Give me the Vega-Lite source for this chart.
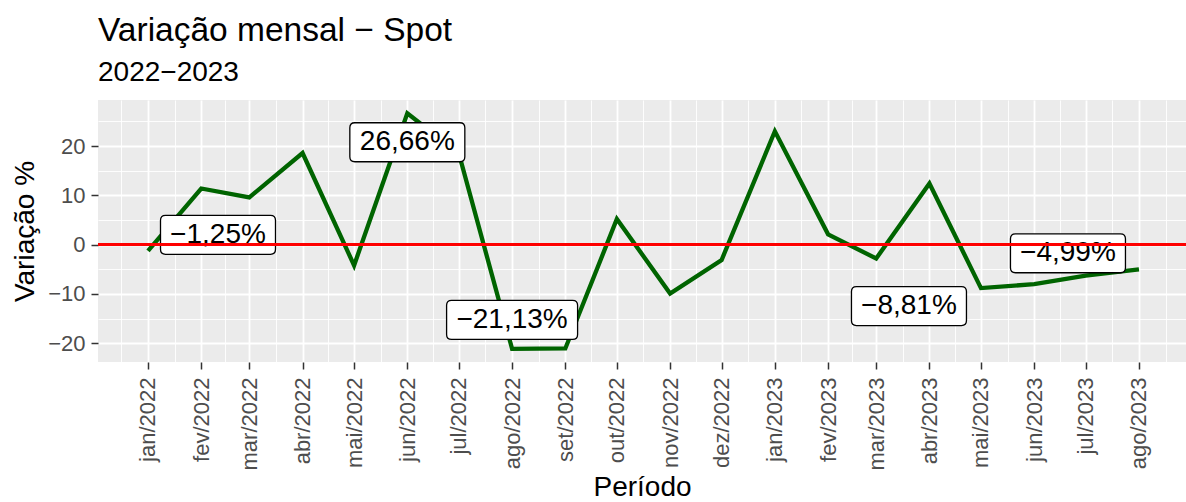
{
  "$schema": "https://vega.github.io/schema/vega-lite/v6.json",
  "autosize": "none",
  "width": 1088,
  "height": 262,
  "padding": {"left": 98, "top": 100, "right": 0, "bottom": 140},
  "config": {
    "font": "Liberation Sans",
    "view": {"fill": "#EBEBEB", "stroke": null}
  },
  "title": {
    "text": "Variação mensal − Spot",
    "subtitle": "2022−2023",
    "anchor": "start",
    "frame": "group",
    "fontSize": 33.5,
    "fontWeight": "normal",
    "color": "black",
    "subtitleFontSize": 28,
    "subtitleColor": "black",
    "offset": 12,
    "subtitlePadding": 11
  },
  "data": {
    "values": [
      {"periodo": "2022-01-01", "variacao": -1.25, "rotulo": "−1,25%"},
      {"periodo": "2022-02-01", "variacao": 11.4, "rotulo": null},
      {"periodo": "2022-03-01", "variacao": 9.6, "rotulo": null},
      {"periodo": "2022-04-01", "variacao": 18.6, "rotulo": null},
      {"periodo": "2022-05-01", "variacao": -4.2, "rotulo": null},
      {"periodo": "2022-06-01", "variacao": 26.66, "rotulo": "26,66%"},
      {"periodo": "2022-07-01", "variacao": 18.5, "rotulo": null},
      {"periodo": "2022-08-01", "variacao": -21.13, "rotulo": "−21,13%"},
      {"periodo": "2022-09-01", "variacao": -21.05, "rotulo": null},
      {"periodo": "2022-10-01", "variacao": 5.2, "rotulo": null},
      {"periodo": "2022-11-01", "variacao": -9.9, "rotulo": null},
      {"periodo": "2022-12-01", "variacao": -3.1, "rotulo": null},
      {"periodo": "2023-01-01", "variacao": 23.0, "rotulo": null},
      {"periodo": "2023-02-01", "variacao": 2.1, "rotulo": null},
      {"periodo": "2023-03-01", "variacao": -2.8, "rotulo": null},
      {"periodo": "2023-04-01", "variacao": 12.4, "rotulo": null},
      {"periodo": "2023-05-01", "variacao": -8.81, "rotulo": "−8,81%"},
      {"periodo": "2023-06-01", "variacao": -8.0, "rotulo": null},
      {"periodo": "2023-07-01", "variacao": -6.3, "rotulo": null},
      {"periodo": "2023-08-01", "variacao": -4.99, "rotulo": "−4,99%"}
    ]
  },
  "resolve": {"axis": {"x": "independent", "y": "independent"}},
  "layer": [
    {
      "mark": {"type": "line", "color": "#006400", "strokeWidth": 4.3},
      "encoding": {
        "x": {
          "field": "periodo", "type": "temporal",
          "scale": {"type": "utc", "domain": [
            {"year": 2021, "month": 12, "date": 2, "hours": 21, "minutes": 20, "utc": true},
            {"year": 2023, "month": 8, "date": 28, "hours": 9, "minutes": 20, "utc": true}
          ]},
          "axis": {
            "orient": "bottom",
            "values": [
              {"year": 2022, "month": 1, "date": 1, "utc": true},
              {"year": 2022, "month": 2, "date": 1, "utc": true},
              {"year": 2022, "month": 3, "date": 1, "utc": true},
              {"year": 2022, "month": 4, "date": 1, "utc": true},
              {"year": 2022, "month": 5, "date": 1, "utc": true},
              {"year": 2022, "month": 6, "date": 1, "utc": true},
              {"year": 2022, "month": 7, "date": 1, "utc": true},
              {"year": 2022, "month": 8, "date": 1, "utc": true},
              {"year": 2022, "month": 9, "date": 1, "utc": true},
              {"year": 2022, "month": 10, "date": 1, "utc": true},
              {"year": 2022, "month": 11, "date": 1, "utc": true},
              {"year": 2022, "month": 12, "date": 1, "utc": true},
              {"year": 2023, "month": 1, "date": 1, "utc": true},
              {"year": 2023, "month": 2, "date": 1, "utc": true},
              {"year": 2023, "month": 3, "date": 1, "utc": true},
              {"year": 2023, "month": 4, "date": 1, "utc": true},
              {"year": 2023, "month": 5, "date": 1, "utc": true},
              {"year": 2023, "month": 6, "date": 1, "utc": true},
              {"year": 2023, "month": 7, "date": 1, "utc": true},
              {"year": 2023, "month": 8, "date": 1, "utc": true}
            ],
            "labelExpr": "['jan','fev','mar','abr','mai','jun','jul','ago','set','out','nov','dez'][utcmonth(datum.value)] + '/' + utcyear(datum.value)",
            "labelAngle": 270,
            "labelAlign": "right",
            "labelBaseline": "middle",
            "labelFontSize": 22,
            "labelColor": "#4D4D4D",
            "labelPadding": 8,
            "labelOverlap": false,
            "labelFlush": false,
            "tickColor": "#333333",
            "tickSize": 7,
            "tickWidth": 1.5,
            "domain": false,
            "grid": true,
            "gridColor": "white",
            "gridWidth": 1.8,
            "title": "Período",
            "titleFontSize": 28,
            "titleFontWeight": "normal",
            "titleColor": "black",
            "titlePadding": 4
          }
        },
        "y": {
          "field": "variacao", "type": "quantitative",
          "scale": {"domain": [-23.8, 29.35], "nice": false, "zero": false},
          "axis": {
            "orient": "left",
            "values": [-20, -10, 0, 10, 20],
            "format": "d",
            "labelFontSize": 22,
            "labelColor": "#4D4D4D",
            "labelPadding": 6,
            "labelFlush": false,
            "tickColor": "#333333",
            "tickSize": 7,
            "tickWidth": 1.5,
            "domain": false,
            "grid": true,
            "gridColor": "white",
            "gridWidth": 1.8,
            "title": "Variação %",
            "titleFontSize": 28,
            "titleFontWeight": "normal",
            "titleColor": "black",
            "titlePadding": 8
          }
        }
      }
    },
    {
      "transform": [{"filter": "datum.rotulo === '−1,25%'"}],
      "mark": {"type": "point", "filled": true, "fill": "white", "stroke": "black", "strokeWidth": 1.3, "opacity": 1, "size": 13225, "xOffset": 70, "yOffset": -16,
        "shape": "M-0.913,-0.339L0.913,-0.339Q1,-0.339,1,-0.252L1,0.252Q1,0.339,0.913,0.339L-0.913,0.339Q-1,0.339,-1,0.252L-1,-0.252Q-1,-0.339,-0.913,-0.339Z"},
      "encoding": {
        "x": {"field": "periodo", "type": "temporal",
          "axis": {
            "orient": "top",
            "values": [
              {"year": 2021, "month": 12, "date": 16, "hours": 12, "utc": true},
              {"year": 2022, "month": 1, "date": 16, "hours": 12, "utc": true},
              {"year": 2022, "month": 2, "date": 15, "utc": true},
              {"year": 2022, "month": 3, "date": 16, "hours": 12, "utc": true},
              {"year": 2022, "month": 4, "date": 16, "utc": true},
              {"year": 2022, "month": 5, "date": 16, "hours": 12, "utc": true},
              {"year": 2022, "month": 6, "date": 16, "utc": true},
              {"year": 2022, "month": 7, "date": 16, "hours": 12, "utc": true},
              {"year": 2022, "month": 8, "date": 16, "hours": 12, "utc": true},
              {"year": 2022, "month": 9, "date": 16, "utc": true},
              {"year": 2022, "month": 10, "date": 16, "hours": 12, "utc": true},
              {"year": 2022, "month": 11, "date": 16, "utc": true},
              {"year": 2022, "month": 12, "date": 16, "hours": 12, "utc": true},
              {"year": 2023, "month": 1, "date": 16, "hours": 12, "utc": true},
              {"year": 2023, "month": 2, "date": 15, "utc": true},
              {"year": 2023, "month": 3, "date": 16, "hours": 12, "utc": true},
              {"year": 2023, "month": 4, "date": 16, "utc": true},
              {"year": 2023, "month": 5, "date": 16, "hours": 12, "utc": true},
              {"year": 2023, "month": 6, "date": 16, "utc": true},
              {"year": 2023, "month": 7, "date": 16, "hours": 12, "utc": true},
              {"year": 2023, "month": 8, "date": 16, "hours": 12, "utc": true}
            ],
            "grid": true, "gridColor": "white", "gridWidth": 0.9,
            "labels": false, "ticks": false, "domain": false, "title": null
          }
        },
        "y": {"field": "variacao", "type": "quantitative",
          "axis": {
            "orient": "right",
            "values": [-15, -5, 5, 15, 25],
            "grid": true, "gridColor": "white", "gridWidth": 0.9,
            "labels": false, "ticks": false, "domain": false, "title": null
          }
        }
      }
    },
    {
      "transform": [{"filter": "datum.rotulo === '−1,25%'"}],
      "mark": {"type": "text", "fontSize": 28, "color": "black", "align": "center", "baseline": "middle", "dx": 70, "dy": -16},
      "encoding": {
        "x": {"field": "periodo", "type": "temporal", "axis": null},
        "y": {"field": "variacao", "type": "quantitative", "axis": null},
        "text": {"field": "rotulo"}
      }
    },
    {
      "transform": [{"filter": "datum.rotulo === '26,66%'"}],
      "mark": {"type": "point", "filled": true, "fill": "white", "stroke": "black", "strokeWidth": 1.3, "opacity": 1, "size": 13225, "xOffset": 0, "yOffset": 29,
        "shape": "M-0.913,-0.339L0.913,-0.339Q1,-0.339,1,-0.252L1,0.252Q1,0.339,0.913,0.339L-0.913,0.339Q-1,0.339,-1,0.252L-1,-0.252Q-1,-0.339,-0.913,-0.339Z"},
      "encoding": {
        "x": {"field": "periodo", "type": "temporal", "axis": null},
        "y": {"field": "variacao", "type": "quantitative", "axis": null}
      }
    },
    {
      "transform": [{"filter": "datum.rotulo === '26,66%'"}],
      "mark": {"type": "text", "fontSize": 28, "color": "black", "align": "center", "baseline": "middle", "dx": 0, "dy": 29},
      "encoding": {
        "x": {"field": "periodo", "type": "temporal", "axis": null},
        "y": {"field": "variacao", "type": "quantitative", "axis": null},
        "text": {"field": "rotulo"}
      }
    },
    {
      "transform": [{"filter": "datum.rotulo === '−21,13%'"}],
      "mark": {"type": "point", "filled": true, "fill": "white", "stroke": "black", "strokeWidth": 1.3, "opacity": 1, "size": 17161, "xOffset": 0, "yOffset": -29,
        "shape": "M-0.924,-0.298L0.924,-0.298Q1,-0.298,1,-0.222L1,0.222Q1,0.298,0.924,0.298L-0.924,0.298Q-1,0.298,-1,0.222L-1,-0.222Q-1,-0.298,-0.924,-0.298Z"},
      "encoding": {
        "x": {"field": "periodo", "type": "temporal", "axis": null},
        "y": {"field": "variacao", "type": "quantitative", "axis": null}
      }
    },
    {
      "transform": [{"filter": "datum.rotulo === '−21,13%'"}],
      "mark": {"type": "text", "fontSize": 28, "color": "black", "align": "center", "baseline": "middle", "dx": 0, "dy": -29},
      "encoding": {
        "x": {"field": "periodo", "type": "temporal", "axis": null},
        "y": {"field": "variacao", "type": "quantitative", "axis": null},
        "text": {"field": "rotulo"}
      }
    },
    {
      "transform": [{"filter": "datum.rotulo === '−8,81%'"}],
      "mark": {"type": "point", "filled": true, "fill": "white", "stroke": "black", "strokeWidth": 1.3, "opacity": 1, "size": 13225, "xOffset": -72, "yOffset": 18,
        "shape": "M-0.913,-0.339L0.913,-0.339Q1,-0.339,1,-0.252L1,0.252Q1,0.339,0.913,0.339L-0.913,0.339Q-1,0.339,-1,0.252L-1,-0.252Q-1,-0.339,-0.913,-0.339Z"},
      "encoding": {
        "x": {"field": "periodo", "type": "temporal", "axis": null},
        "y": {"field": "variacao", "type": "quantitative", "axis": null}
      }
    },
    {
      "transform": [{"filter": "datum.rotulo === '−8,81%'"}],
      "mark": {"type": "text", "fontSize": 28, "color": "black", "align": "center", "baseline": "middle", "dx": -72, "dy": 18},
      "encoding": {
        "x": {"field": "periodo", "type": "temporal", "axis": null},
        "y": {"field": "variacao", "type": "quantitative", "axis": null},
        "text": {"field": "rotulo"}
      }
    },
    {
      "transform": [{"filter": "datum.rotulo === '−4,99%'"}],
      "mark": {"type": "point", "filled": true, "fill": "white", "stroke": "black", "strokeWidth": 1.3, "opacity": 1, "size": 13225, "xOffset": -71, "yOffset": -16,
        "shape": "M-0.913,-0.339L0.913,-0.339Q1,-0.339,1,-0.252L1,0.252Q1,0.339,0.913,0.339L-0.913,0.339Q-1,0.339,-1,0.252L-1,-0.252Q-1,-0.339,-0.913,-0.339Z"},
      "encoding": {
        "x": {"field": "periodo", "type": "temporal", "axis": null},
        "y": {"field": "variacao", "type": "quantitative", "axis": null}
      }
    },
    {
      "transform": [{"filter": "datum.rotulo === '−4,99%'"}],
      "mark": {"type": "text", "fontSize": 28, "color": "black", "align": "center", "baseline": "middle", "dx": -71, "dy": -16},
      "encoding": {
        "x": {"field": "periodo", "type": "temporal", "axis": null},
        "y": {"field": "variacao", "type": "quantitative", "axis": null},
        "text": {"field": "rotulo"}
      }
    },
    {
      "mark": {"type": "rule", "color": "red", "strokeWidth": 2},
      "encoding": {"y": {"datum": 0, "type": "quantitative", "axis": null}}
    }
  ]
}
